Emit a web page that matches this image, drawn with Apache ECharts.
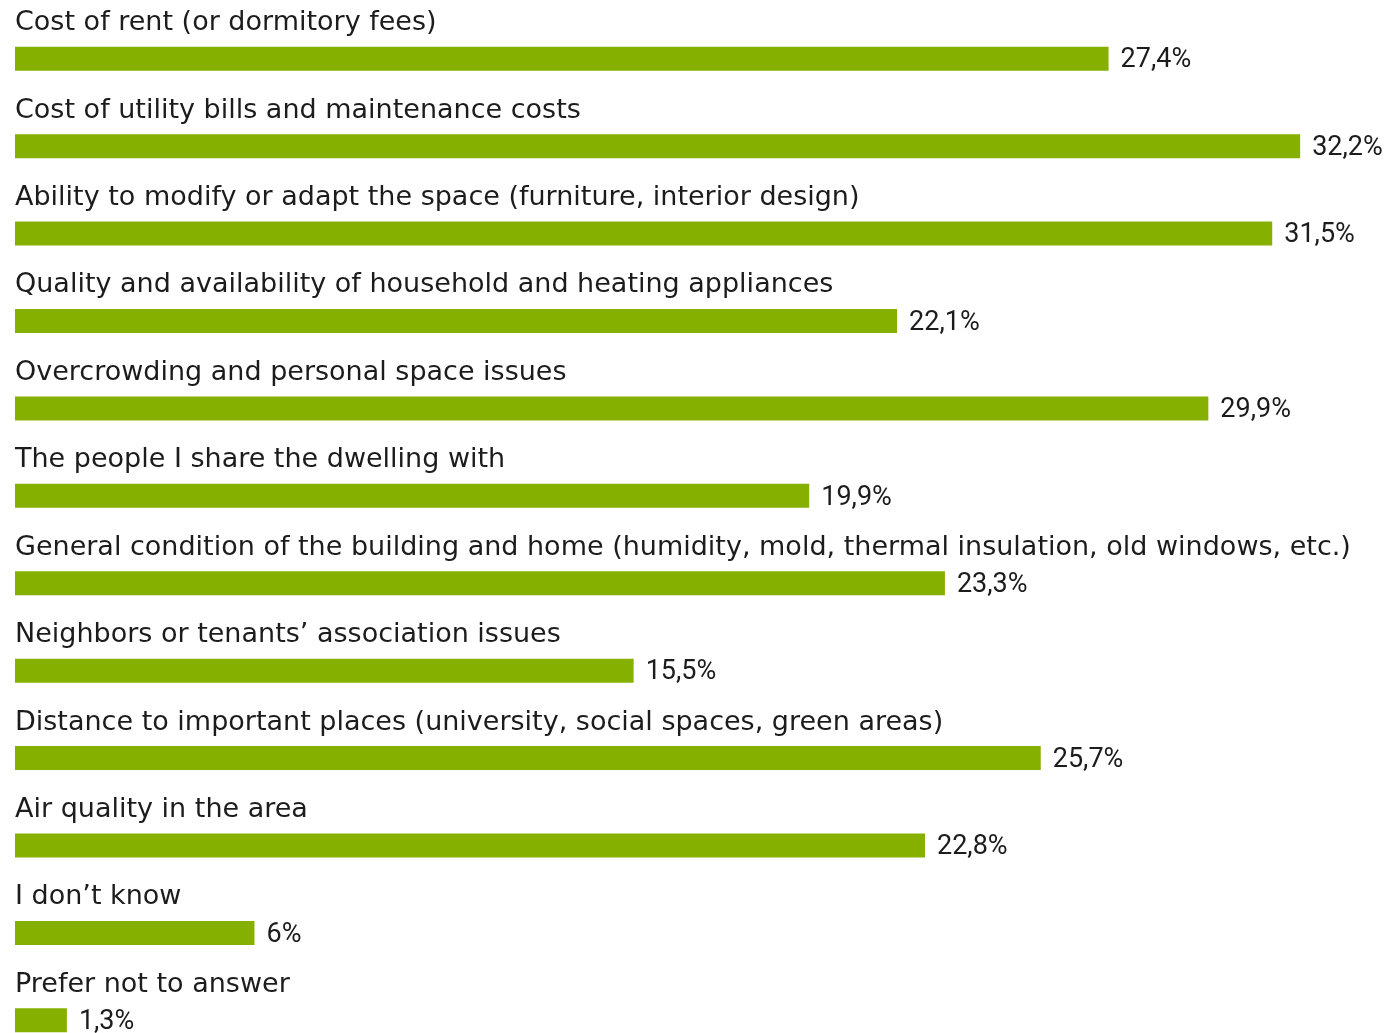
<!DOCTYPE html>
<html>
<head>
<meta charset="utf-8">
<script src="https://cdn.jsdelivr.net/npm/echarts@6/dist/echarts.min.js"></script>
<style>
  html, body { margin: 0; padding: 0; background: #ffffff; overflow: hidden; }
  #chart { width: 1395px; height: 1080px; }
</style>
</head>
<body>
<div id="chart"></div>
<script>
// Survey answers: housing problems experienced, share of respondents (%)
const categories = [
  'Cost of rent (or dormitory fees)',
  'Cost of utility bills and maintenance costs',
  'Ability to modify or adapt the space (furniture, interior design)',
  'Quality and availability of household and heating appliances',
  'Overcrowding and personal space issues',
  'The people I share the dwelling with',
  'General condition of the building and home (humidity, mold, thermal insulation, old windows, etc.)',
  'Neighbors or tenants\u2019 association issues',
  'Distance to important places (university, social spaces, green areas)',
  'Air quality in the area',
  'I don\u2019t know',
  'Prefer not to answer'
];
const shares = [27.4, 32.2, 31.5, 22.1, 29.9, 19.9, 23.3, 15.5, 25.7, 22.8, 6, 1.3];

const chart = echarts.init(document.getElementById('chart'), null, { renderer: 'canvas' });

const fmtShare = v => String(v).replace('.', ',') + '%';

chart.setOption({
  animation: false,
  backgroundColor: '#ffffff',
  grid: { left: 15, top: 15, width: 1357, height: 1049, containLabel: false },
  xAxis: {
    type: 'value', min: 0, max: 34,
    show: false
  },
  yAxis: {
    type: 'category',
    data: categories,
    inverse: true,
    axisLine: { show: false },
    axisTick: { show: false },
    splitLine: { show: false },
    axisLabel: {
      inside: true,
      margin: 0,
      align: 'left',
      verticalAlign: 'bottom',
      padding: [0, 0, 22, 0],
      fontFamily: 'DejaVu Sans',
      fontSize: 27,
      color: '#1c1c1c'
    }
  },
  series: [{
    type: 'bar',
    data: shares,
    barWidth: 24,
    itemStyle: { color: '#86b000' },
    label: {
      show: true,
      position: 'right',
      distance: 12,
      offset: [0, 2],
      fontFamily: 'Roboto',
      fontSize: 27,
      color: '#1c1c1c',
      formatter: p => fmtShare(p.value)
    },
    silent: true
  }]
});
</script>
</body>
</html>
